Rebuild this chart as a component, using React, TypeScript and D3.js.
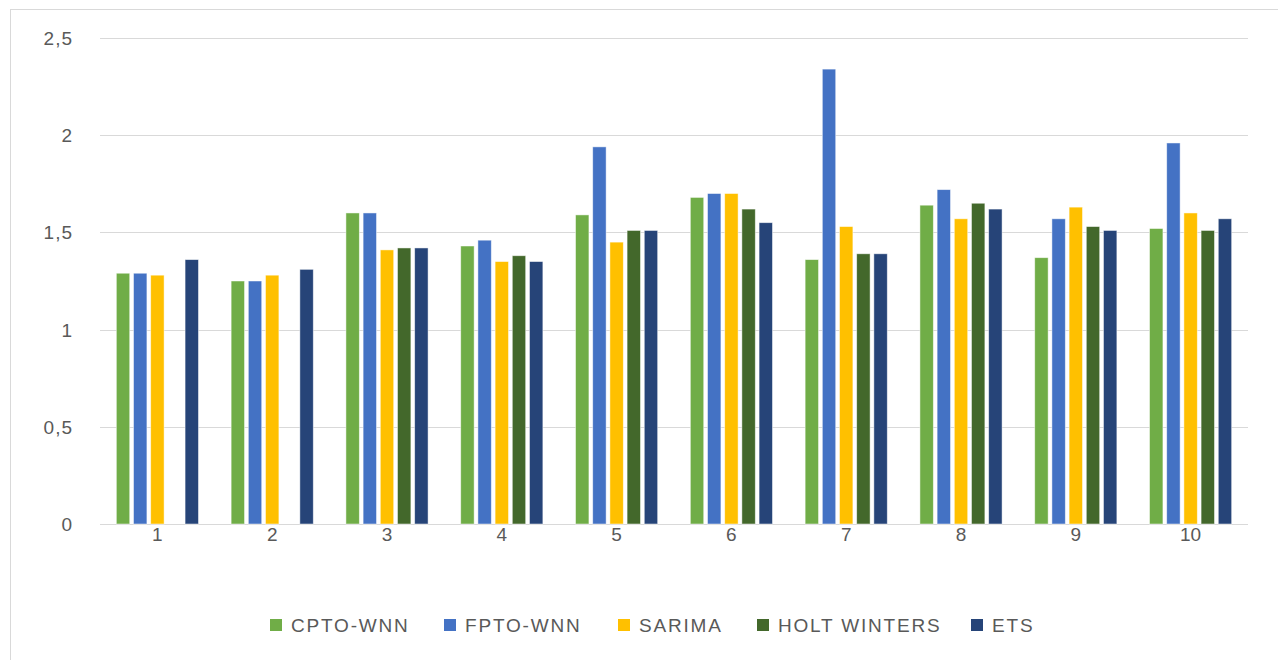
import { useRef, useEffect } from "react";
import * as d3 from "d3";

const categories = ["1", "2", "3", "4", "5", "6", "7", "8", "9", "10"];
const seriesNames = ["CPTO-WNN", "FPTO-WNN", "SARIMA", "HOLT WINTERS", "ETS"];
const seriesColors = ["#70AD47", "#4472C4", "#FFC000", "#43682B", "#264478"];

const cptoWnn = [1.29, 1.25, 1.6, 1.43, 1.59, 1.68, 1.36, 1.64, 1.37, 1.52];
const fptoWnn = [1.29, 1.25, 1.6, 1.46, 1.94, 1.7, 2.34, 1.72, 1.57, 1.96];
const sarima = [1.28, 1.28, 1.41, 1.35, 1.45, 1.7, 1.53, 1.57, 1.63, 1.6];
const holtWinters = [null, null, 1.42, 1.38, 1.51, 1.62, 1.39, 1.65, 1.53, 1.51];
const ets = [1.36, 1.31, 1.42, 1.35, 1.51, 1.55, 1.39, 1.62, 1.51, 1.57];

const yTicks = [0, 0.5, 1, 1.5, 2, 2.5];

export default function App() {
  const svgRef = useRef<SVGSVGElement>(null);

  useEffect(() => {
    const w = 1278;
    const h = 660;
    const svg = d3.select(svgRef.current);
    svg.selectAll("*").remove();

    const font = "'Liberation Sans', Arial, sans-serif";
    const allSeries = [cptoWnn, fptoWnn, sarima, holtWinters, ets];

    // frame
    svg
      .append("rect")
      .attr("x", 10.5)
      .attr("y", 9.5)
      .attr("width", w)
      .attr("height", h)
      .attr("fill", "#fff")
      .attr("stroke", "#d9d9d9");

    // scales
    const x0 = d3.scaleBand().domain(categories).range([100, 1248]);
    const x1 = d3
      .scaleBand()
      .domain(seriesNames)
      .range([0, x0.bandwidth()])
      .paddingInner(0.22)
      .paddingOuter(0.95);
    const y = d3.scaleLinear().domain([0, 2.5]).range([524, 38]);

    // grid
    svg
      .append("g")
      .selectAll("line")
      .data(yTicks)
      .enter()
      .append("line")
      .attr("x1", 100)
      .attr("x2", 1248)
      .attr("y1", (d) => Math.round(y(d)) + 0.5)
      .attr("y2", (d) => Math.round(y(d)) + 0.5)
      .attr("stroke", "#d9d9d9")
      .attr("stroke-width", 1.2);

    // y labels
    svg
      .append("g")
      .selectAll("text")
      .data(yTicks)
      .enter()
      .append("text")
      .attr("x", 73)
      .attr("y", (d) => y(d) + 7)
      .attr("text-anchor", "end")
      .attr("font-family", font)
      .attr("font-size", 19)
      .attr("letter-spacing", 1)
      .attr("fill", "#595959")
      .text((d) => String(d).replace(".", ","));

    // bars
    categories.forEach((c, i) => {
      const g = svg.append("g").attr("transform", `translate(${x0(c)},0)`);
      seriesNames.forEach((s, j) => {
        const v = allSeries[j][i];
        if (v == null) return;
        g.append("rect")
          .attr("x", x1(s)!)
          .attr("y", y(v))
          .attr("width", x1.bandwidth())
          .attr("height", y(0) - y(v))
          .attr("fill", seriesColors[j])
          .attr("stroke", "#ffffff")
          .attr("stroke-opacity", 0.6)
          .attr("stroke-width", 0.8);
      });
    });

    // x labels
    svg
      .append("g")
      .selectAll("text")
      .data(categories)
      .enter()
      .append("text")
      .attr("x", (d) => x0(d)! + x0.bandwidth() / 2)
      .attr("y", 541)
      .attr("text-anchor", "middle")
      .attr("font-family", font)
      .attr("font-size", 19)
      .attr("fill", "#595959")
      .text((d) => d);

    // legend
    const legendX = [270, 444, 618, 757, 971];
    const legend = svg.append("g");
    seriesNames.forEach((s, j) => {
      legend
        .append("rect")
        .attr("x", legendX[j])
        .attr("y", 619)
        .attr("width", 12)
        .attr("height", 12)
        .attr("fill", seriesColors[j]);
      legend
        .append("text")
        .attr("x", legendX[j] + 21)
        .attr("y", 632)
        .attr("font-family", font)
        .attr("font-size", 19)
        .attr("letter-spacing", 1.8)
        .attr("fill", "#595959")
        .text(s);
    });
  }, []);

  return (
    <svg
      ref={svgRef}
      width={1278}
      height={660}
      style={{ position: "absolute", left: 0, top: 0 }}
    ></svg>
  );
}
